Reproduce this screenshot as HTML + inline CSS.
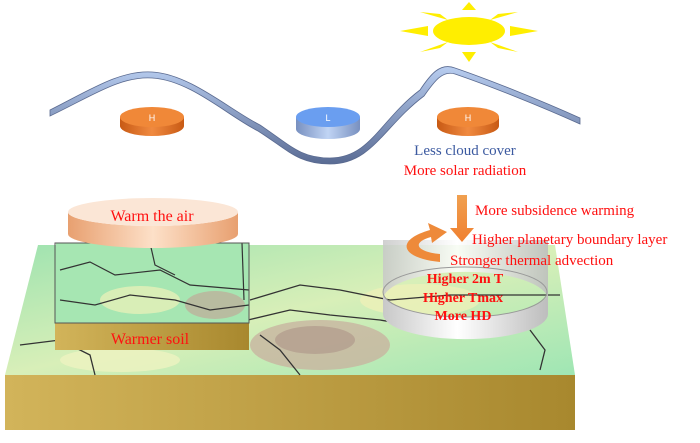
<!DOCTYPE html>
<html><head><meta charset="utf-8"><style>
body{margin:0;background:#fff;}
svg{display:block;font-family:"Liberation Serif",serif;}
</style></head><body>
<svg width="700" height="443" viewBox="0 0 700 443" xmlns="http://www.w3.org/2000/svg">
<defs>
<linearGradient id="front" x1="0" x2="1"><stop offset="0" stop-color="#d2b45a"/><stop offset="1" stop-color="#a8882e"/></linearGradient>
<linearGradient id="top" x1="0" x2="1" y1="0" y2="1"><stop offset="0" stop-color="#9fe3b0"/><stop offset="0.5" stop-color="#d8efb8"/><stop offset="1" stop-color="#9fe6b4"/></linearGradient>
<linearGradient id="peach" x1="0" x2="1"><stop offset="0" stop-color="#e8a070"/><stop offset="0.5" stop-color="#fde0c8"/><stop offset="1" stop-color="#e8a070"/></linearGradient>
<linearGradient id="cyl" x1="0" x2="1"><stop offset="0" stop-color="#c8c8c8"/><stop offset="0.45" stop-color="#ffffff"/><stop offset="1" stop-color="#bdbdbd"/></linearGradient>
<linearGradient id="wave" x1="0" x2="0" y1="0" y2="1"><stop offset="0" stop-color="#b8cdf0"/><stop offset="1" stop-color="#5a6c94"/></linearGradient>
<linearGradient id="orH" x1="0" x2="1"><stop offset="0" stop-color="#c85a14"/><stop offset="0.5" stop-color="#f08a40"/><stop offset="1" stop-color="#c85a14"/></linearGradient>
<linearGradient id="blL" x1="0" x2="1"><stop offset="0" stop-color="#7890c0"/><stop offset="0.5" stop-color="#c0d4f4"/><stop offset="1" stop-color="#7890c0"/></linearGradient>
<linearGradient id="arr" x1="0" x2="0" y1="0" y2="1"><stop offset="0" stop-color="#f0a050"/><stop offset="1" stop-color="#f08030"/></linearGradient>
</defs>

<g fill="#ffee00">
<ellipse cx="469" cy="31" rx="36" ry="14"/>
<polygon points="462,10 476,10 469,2"/>
<polygon points="462,52 476,52 469,62"/>
<polygon points="428,26 428,36 400,31"/>
<polygon points="510,26 510,36 538,31"/>
<polygon points="440,14 448,20 420,12"/>
<polygon points="498,14 490,20 518,12"/>
<polygon points="440,48 448,42 420,52"/>
<polygon points="498,48 490,42 518,52"/>
</g>

<path d="M50,110 C90,90 120,70 152,72 C190,74 230,110 260,125 C290,145 300,158 330,158 C370,158 380,120 420,90 C430,75 440,62 455,68 C490,80 540,100 580,118 L580,124 C540,106 490,86 455,74 C442,70 434,82 424,96 C384,126 372,164 330,164 C298,164 288,150 258,131 C228,116 190,80 152,78 C120,76 92,96 50,116 Z" fill="url(#wave)" stroke="#5a6a90" stroke-width="0.8"/>

<g>
<path d="M120,117 v9 a32,10 0 0 0 64,0 v-9 z" fill="url(#orH)"/>
<ellipse cx="152" cy="117" rx="32" ry="10" fill="#f08838"/>
<text x="152" y="121" font-family="Liberation Sans,sans-serif" font-size="9" fill="#fff" text-anchor="middle">H</text>
<path d="M296,117 v12 a32,10 0 0 0 64,0 v-12 z" fill="url(#blL)"/>
<ellipse cx="328" cy="117" rx="32" ry="10" fill="#6a9ef0"/>
<text x="328" y="121" font-family="Liberation Sans,sans-serif" font-size="9" fill="#fff" text-anchor="middle">L</text>
<path d="M437,117 v9 a31,10 0 0 0 62,0 v-9 z" fill="url(#orH)"/>
<ellipse cx="468" cy="117" rx="31" ry="10" fill="#f08838"/>
<text x="468" y="121" font-family="Liberation Sans,sans-serif" font-size="9" fill="#fff" text-anchor="middle">H</text>
</g>

<text x="465" y="155" font-size="15" fill="#3c5aa0" text-anchor="middle">Less cloud cover</text>
<text x="465" y="175" font-size="15" fill="#ff1010" text-anchor="middle">More solar radiation</text>

<polygon points="5,375 575,375 575,430 5,430" fill="url(#front)"/>
<polygon points="38,245 555,245 575,375 5,375" fill="url(#top)"/>
<ellipse cx="320" cy="345" rx="70" ry="25" fill="#c8b4a0" opacity="0.8"/>
<ellipse cx="315" cy="340" rx="40" ry="14" fill="#b09a8c" opacity="0.7"/>
<ellipse cx="420" cy="300" rx="60" ry="16" fill="#eef0b8" opacity="0.8"/>
<ellipse cx="120" cy="360" rx="60" ry="12" fill="#eef2c0" opacity="0.8"/>
<g fill="none" stroke="#333" stroke-width="1.3">
<path d="M250,300 L300,285 L340,290 L390,300 L450,295 L560,295"/>
<path d="M248,320 L290,310 L330,315 L380,320 L440,330 L500,325"/>
<path d="M20,345 L60,340 L90,355 L95,375"/>
<path d="M260,335 L280,350 L300,375"/>
<path d="M530,330 L545,350 L540,370"/>
</g>

<polygon points="55,323 249,323 249,350 55,350" fill="url(#front)"/>
<polygon points="56,243 249,243 249,323 55,323" fill="#a6e6b2"/>
<ellipse cx="140" cy="300" rx="40" ry="14" fill="#e6f0b8" opacity="0.8"/>
<ellipse cx="215" cy="305" rx="30" ry="14" fill="#c0aa98" opacity="0.7"/>
<g fill="none" stroke="#333" stroke-width="1.2">
<path d="M60,270 L90,262 L115,275 L160,270 L190,285 L249,290"/>
<path d="M60,300 L95,305 L130,295 L175,300 L210,310 L249,305"/>
<path d="M150,243 L155,265 L175,275"/>
<path d="M242,243 L244,300"/>
</g>
<polygon points="55,243 249,243 249,323 55,323" fill="none" stroke="#555" stroke-width="1"/>
<text x="150" y="344" font-size="16" fill="#ff1010" text-anchor="middle">Warmer soil</text>

<path d="M68,212 v22 a85,14 0 0 0 170,0 v-22 a85,14 0 0 1 -170,0 z" fill="url(#peach)"/>
<ellipse cx="153" cy="212" rx="85" ry="14" fill="#fbe6d6"/>
<text x="152" y="221" font-size="16" fill="#ff1010" text-anchor="middle">Warm the air</text>

<path d="M383,240 L548,240 L548,300 A82,28 0 0 0 383,300 Z" fill="url(#cyl)" opacity="0.85"/>
<path d="M383,292 v22 a82,25 0 0 0 165,0 v-22 a82,25 0 0 1 -165,0 z" fill="url(#cyl)"/>
<ellipse cx="465" cy="292" rx="82" ry="25" fill="none" stroke="#999" stroke-width="1"/>

<polygon points="457,195 467,195 467,228 474,228 462,242 450,228 457,228" fill="url(#arr)"/>
<path d="M440,262 C400,258 395,240 430,230 L428,223 L447,232 L432,243 L431,237 C410,243 418,252 440,254 Z" fill="#ee8a3a"/>

<text x="475" y="215" font-size="15" fill="#ff1010">More subsidence  warming</text>
<text x="472" y="244" font-size="15" fill="#ff1010">Higher planetary boundary layer</text>
<text x="450" y="265" font-size="15" fill="#ff1010">Stronger thermal advection</text>
<g font-size="14" font-weight="bold" fill="#ff1010" text-anchor="middle">
<text x="465" y="283">Higher 2m T</text>
<text x="463" y="302">Higher Tmax</text>
<text x="463" y="320">More HD</text>
</g>
</svg>
</body></html>
